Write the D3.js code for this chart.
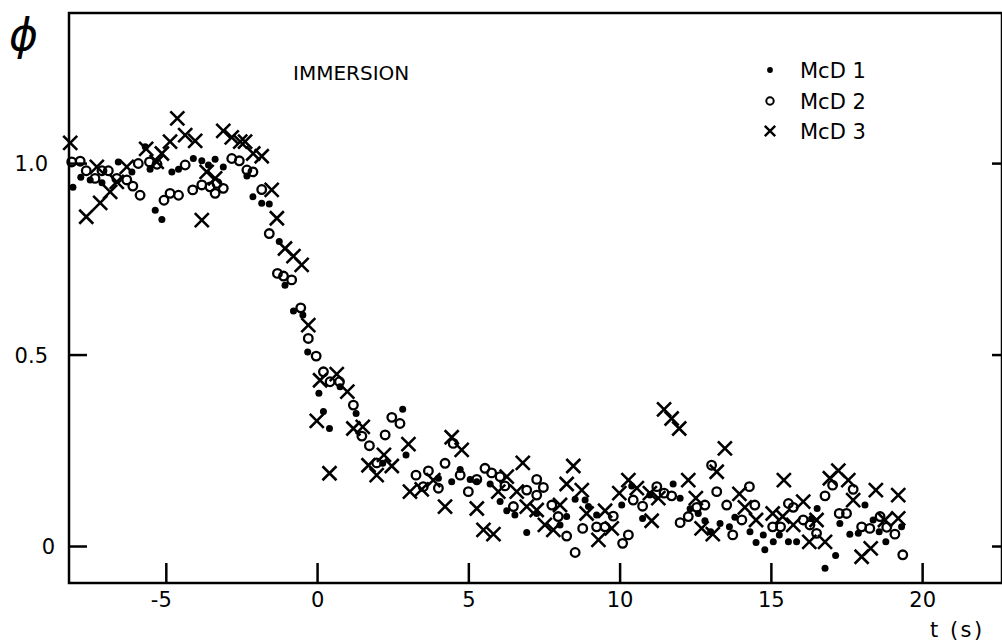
<!DOCTYPE html>
<html>
<head>
<meta charset="utf-8">
<script src="https://cdn.jsdelivr.net/npm/d3@7"></script>
<style>
  html, body { margin: 0; padding: 0; background: #fff; }
  svg { display: block; }
  text { font-family: "DejaVu Sans", Arial, sans-serif; fill: #000; }
</style>
</head>
<body>
<div id="chart"></div>
<script>
// Normalised response phi versus time t (s) for three immersion runs.
// Each series: [t (s), phi]
const mcd1 = [
  [-8.07,0.937],[-7.81,0.963],[-7.50,0.956],[-7.11,0.949],[-6.57,1.003],[-6.12,0.977],
  [-5.68,1.043],[-5.52,0.984],[-5.35,0.877],[-5.13,0.853],[-4.80,0.977],[-4.58,0.984],
  [-4.09,1.012],[-3.81,1.006],[-3.59,0.995],[-3.37,1.010],[-3.10,0.990],[-2.32,0.966],
  [-2.12,0.912],[-1.83,0.895],[-1.58,0.893],[-1.25,0.795],[-1.06,0.681],[-0.78,0.614],
  [-0.47,0.603],[-0.31,0.507],[0.06,0.399],[0.21,0.351],[0.41,0.307],[0.76,0.416],
  [1.29,0.346],[2.17,0.216],[2.83,0.357],[2.94,0.238],[4.01,0.177],[4.45,0.168],
  [4.73,0.200],[5.06,0.174],[5.28,0.168],[5.72,0.162],[6.05,0.116],[6.27,0.092],
  [6.54,0.081],[6.93,0.035],[7.26,0.085],[8.03,0.055],[8.25,0.077],[8.53,0.122],
  [8.86,0.120],[8.97,0.103],[9.24,0.081],[10.07,0.107],[10.40,0.157],[10.76,0.072],
  [11.00,0.133],[11.77,0.162],[12.00,0.125],[12.33,0.097],[12.60,0.085],[12.82,0.066],
  [13.01,0.037],[13.32,0.059],[13.63,0.050],[13.81,0.075],[14.31,0.037],[14.51,0.009],
  [14.75,0.029],[14.80,-0.010],[15.08,0.011],[15.28,0.029],[15.58,0.011],[15.85,0.011],
  [16.35,0.072],[16.53,0.098],[16.79,-0.058],[17.14,-0.025],[17.28,0.059],[17.61,0.031],
  [17.89,0.033],[18.11,0.107],[18.38,0.068],[18.58,0.037],[18.80,0.011],[19.32,0.050]
];

const mcd2 = [
  [-8.11,1.003],[-7.83,1.005],[-7.63,0.980],[-7.34,0.960],[-7.11,0.980],[-6.90,0.980],
  [-6.62,0.960],[-6.29,0.956],[-6.09,0.940],[-5.91,0.999],[-5.85,0.916],[-5.54,1.003],
  [-5.29,0.997],[-5.06,0.903],[-4.86,0.921],[-4.58,0.916],[-4.36,0.995],[-4.11,0.930],
  [-3.81,0.943],[-3.54,0.938],[-3.37,0.921],[-3.31,0.947],[-3.10,0.934],[-2.82,1.012],
  [-2.57,1.006],[-2.32,0.982],[-2.12,0.977],[-1.83,0.931],[-1.58,0.816],[-1.31,0.712],
  [-1.11,0.705],[-0.84,0.695],[-0.54,0.622],[-0.29,0.542],[-0.03,0.496],[0.21,0.455],
  [0.43,0.429],[0.74,0.429],[1.20,0.368],[1.48,0.287],[1.73,0.262],[1.97,0.217],
  [2.25,0.290],[2.47,0.336],[2.74,0.320],[3.27,0.185],[3.51,0.155],[3.68,0.196],
  [4.01,0.151],[4.23,0.216],[4.50,0.268],[4.73,0.185],[5.00,0.142],[5.28,0.174],
  [5.55,0.203],[5.77,0.191],[6.05,0.181],[6.21,0.157],[6.49,0.103],[6.93,0.146],
  [7.26,0.174],[7.26,0.133],[7.48,0.153],[7.76,0.107],[7.97,0.077],[8.25,0.026],
  [8.53,-0.017],[8.78,0.046],[9.24,0.050],[9.52,0.050],[9.79,0.078],[10.10,0.007],
  [10.29,0.029],[10.45,0.120],[10.76,0.104],[11.23,0.155],[11.47,0.138],[11.72,0.131],
  [12.00,0.061],[12.27,0.077],[12.55,0.101],[12.82,0.107],[13.04,0.211],[13.21,0.142],
  [13.54,0.107],[13.74,0.029],[14.04,0.068],[14.29,0.155],[14.47,0.107],[15.06,0.050],
  [15.32,0.050],[15.58,0.111],[15.74,0.101],[16.07,0.068],[16.29,0.055],[16.51,0.033],
  [16.79,0.131],[17.04,0.159],[17.26,0.085],[17.50,0.085],[17.72,0.148],[18.00,0.050],
  [18.27,0.046],[18.61,0.077],[18.83,0.049],[19.10,0.031],[19.36,-0.023]
];

const mcd3 = [
  [-8.16,1.053],[-7.63,0.860],[-7.28,0.990],[-7.17,0.896],[-6.84,0.925],[-6.62,0.951],
  [-6.29,0.990],[-5.65,1.037],[-5.30,1.003],[-5.13,1.025],[-4.86,1.056],[-4.62,1.117],
  [-4.36,1.073],[-4.03,1.058],[-3.81,0.851],[-3.65,0.977],[-3.37,0.960],[-3.10,1.084],
  [-2.82,1.067],[-2.54,1.056],[-2.38,1.056],[-2.11,1.025],[-1.83,1.018],[-1.50,0.930],
  [-1.33,0.856],[-1.06,0.777],[-0.78,0.757],[-0.51,0.734],[-0.29,0.577],[-0.01,0.327],
  [0.10,0.433],[0.41,0.190],[0.65,0.449],[1.00,0.403],[1.20,0.307],[1.51,0.311],
  [1.70,0.211],[1.97,0.185],[2.21,0.238],[2.47,0.209],[3.02,0.266],[3.07,0.142],
  [3.46,0.148],[3.84,0.172],[4.23,0.103],[4.45,0.284],[4.78,0.251],[5.28,0.098],
  [5.50,0.042],[5.83,0.031],[5.99,0.142],[6.27,0.181],[6.60,0.142],[6.80,0.217],
  [6.93,0.103],[7.26,0.094],[7.53,0.055],[7.81,0.042],[8.03,0.107],[8.25,0.162],
  [8.47,0.209],[8.75,0.146],[8.91,0.085],[9.30,0.016],[9.52,0.092],[9.74,0.046],
  [9.99,0.138],[10.29,0.172],[10.57,0.151],[11.00,0.138],[11.06,0.066],[11.28,0.125],
  [11.47,0.357],[11.72,0.333],[11.97,0.307],[12.27,0.172],[12.52,0.125],[12.71,0.046],
  [13.08,0.031],[13.21,0.194],[13.48,0.255],[13.96,0.136],[14.14,0.101],[14.51,0.068],
  [15.06,0.085],[15.39,0.077],[15.43,0.172],[15.74,0.055],[16.07,0.116],[16.27,0.011],
  [16.51,0.068],[16.79,0.011],[16.95,0.177],[17.23,0.197],[17.56,0.172],[17.72,0.120],
  [18.00,-0.028],[18.30,-0.006],[18.47,0.146],[18.77,0.068],[19.21,0.133],[19.21,0.072]
];

const xTicks = [-5, 0, 5, 10, 15, 20];
const yTicks = [0, 0.5, 1.0];
const yTickLabels = ["0", "0.5", "1.0"];
const seriesNames = ["McD 1", "McD 2", "McD 3"];

const W = 1002, H = 641;
const frame = { left: 69, top: 13, right: 1002, bottom: 583 };
const FONT = "DejaVu Sans, Arial, sans-serif";

const x = d3.scaleLinear().domain([-8.2, 22.64]).range([frame.left, frame.right]);
const y = d3.scaleLinear().domain([-0.0966, 1.392]).range([frame.bottom, frame.top]);

const svg = d3.select("#chart").append("svg")
  .attr("width", W).attr("height", H)
  .attr("viewBox", `0 0 ${W} ${H}`);

// Frame
svg.append("rect")
  .attr("x", frame.left).attr("y", frame.top)
  .attr("width", frame.right - frame.left)
  .attr("height", frame.bottom - frame.top)
  .attr("fill", "none").attr("stroke", "#000").attr("stroke-width", 2.5);

// Bottom axis: inward ticks, labels below the frame
const xAxis = d3.axisBottom(x).tickValues(xTicks).tickSizeInner(-20).tickSizeOuter(0)
  .tickPadding(14).tickFormat(d => d < 0 ? "-" + Math.abs(d) : String(d));
const gx = svg.append("g").attr("transform", `translate(0,${frame.bottom})`).call(xAxis);
gx.select(".domain").remove();
gx.selectAll(".tick line").attr("stroke", "#000").attr("stroke-width", 2.5);
gx.selectAll(".tick text").attr("font-size", 21).attr("fill", "#000")
  .attr("font-family", FONT)
  .attr("dy", "0.72em").attr("y", 9)
  .attr("dx", d => d < 0 ? -5 : 0);

// Left axis: inward ticks
const yAxis = d3.axisLeft(y).tickValues(yTicks).tickSizeInner(-18).tickSizeOuter(0)
  .tickPadding(34).tickFormat((d, i) => yTickLabels[i]);
const gy = svg.append("g").attr("transform", `translate(${frame.left},0)`).call(yAxis);
gy.select(".domain").remove();
gy.selectAll(".tick line").attr("stroke", "#000").attr("stroke-width", 2.5);
gy.selectAll(".tick text").attr("font-size", 21).attr("fill", "#000")
  .attr("font-family", FONT)
  .attr("x", d => d === 0 ? -14 : -21).attr("dy", "0.36em");

// Right axis: inward ticks only
const yAxisR = d3.axisRight(y).tickValues(yTicks).tickSizeInner(-10).tickSizeOuter(0).tickFormat("");
const gyr = svg.append("g").attr("transform", `translate(${frame.right},0)`).call(yAxisR);
gyr.select(".domain").remove();
gyr.selectAll(".tick line").attr("stroke", "#000").attr("stroke-width", 2.5);

// Markers
const plot = svg.append("g");

plot.selectAll("circle.mcd1").data(mcd1).join("circle")
  .attr("class", "mcd1")
  .attr("cx", d => x(d[0])).attr("cy", d => y(d[1]))
  .attr("r", 3.5).attr("fill", "#000");

plot.selectAll("circle.mcd2").data(mcd2).join("circle")
  .attr("class", "mcd2")
  .attr("cx", d => x(d[0])).attr("cy", d => y(d[1]))
  .attr("r", 4.3).attr("fill", "none").attr("stroke", "#000").attr("stroke-width", 2.3);

const cross = (s) => `M${-s},${-s}L${s},${s}M${-s},${s}L${s},${-s}`;
plot.selectAll("path.mcd3").data(mcd3).join("path")
  .attr("class", "mcd3")
  .attr("transform", d => `translate(${x(d[0])},${y(d[1])})`)
  .attr("d", cross(7))
  .attr("fill", "none").attr("stroke", "#000").attr("stroke-width", 2.6);

// Axis titles
svg.append("text").attr("x", 9).attr("y", 50)
  .attr("font-size", 44).attr("font-style", "italic")
  .attr("font-family", "DejaVu Serif, serif")
  .text("ϕ");

svg.append("text").attr("x", 930).attr("y", 637)
  .attr("font-size", 21).attr("letter-spacing", 2.5).text("t (s)");

svg.append("text").attr("x", 293).attr("y", 80)
  .attr("font-size", 20).text("IMMERSION");

// Legend
const leg = svg.append("g");
const legY = [70, 101, 131];
const legX = 770;
leg.append("circle").attr("cx", legX).attr("cy", legY[0]).attr("r", 2.9).attr("fill", "#000");
leg.append("circle").attr("cx", legX).attr("cy", legY[1]).attr("r", 3.7)
  .attr("fill", "none").attr("stroke", "#000").attr("stroke-width", 2);
leg.append("path").attr("transform", `translate(${legX},${legY[2]})`)
  .attr("d", cross(5.2)).attr("stroke", "#000").attr("stroke-width", 2.4).attr("fill", "none");
leg.selectAll("text").data(seriesNames).join("text")
  .attr("x", 800).attr("y", (d, i) => legY[i])
  .attr("dy", "0.36em").attr("font-size", 21).text(d => d);
</script>
</body>
</html>
